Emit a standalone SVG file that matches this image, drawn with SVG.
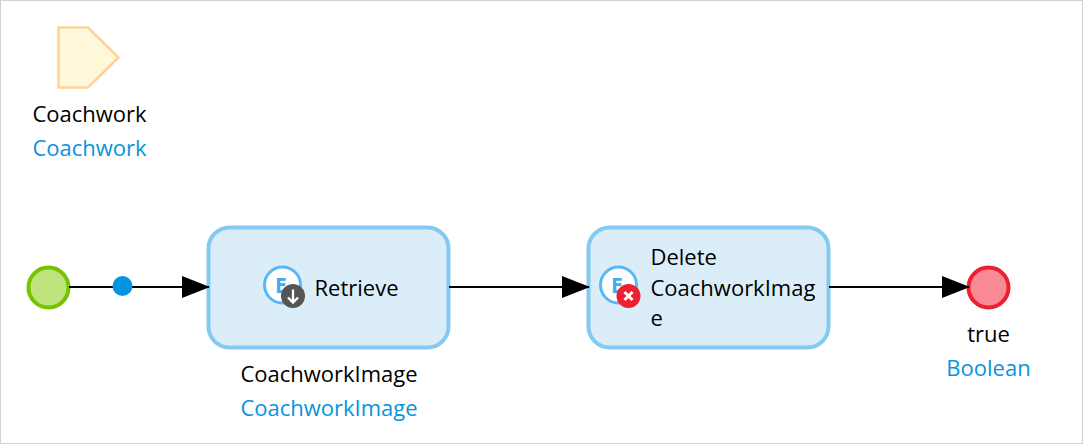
<svg xmlns="http://www.w3.org/2000/svg" width="1083" height="444" viewBox="0 0 1083 444">
<style>
text{font-family:"Open Sans","Noto Sans","Liberation Sans",sans-serif;font-size:22px;fill:#000}
.t{fill:#0595db}
.m{text-anchor:middle}
.act{fill:#daedf9;stroke:#84c9f0;stroke-width:4}
.ic{fill:#fff;stroke:#5cb8f5;stroke-width:3}
.e{font-size:21px;font-weight:700;fill:#45a9ee;text-anchor:middle}
.flow{fill:none;stroke:#000;stroke-width:2}
</style>
<defs>
<marker id="arrow" markerUnits="userSpaceOnUse" markerWidth="28" markerHeight="22" refX="27" refY="11" orient="auto"><path d="M0 0L28 11L0 22Z" fill="#000"/></marker>
</defs>
<rect x="0.500" y="0.500" width="1082" height="443" fill="#fff" stroke="#d2d2d2"/>
<g id="param">
<path d="M58.500 27.500H88L118.500 57.500L88 87.500H58.500Z" fill="#fff8da" stroke="#fdd39b" stroke-width="2.500"/>
<text class="m" x="89.500" y="122">Coachwork</text>
<text class="m t" x="89.500" y="156">Coachwork</text>
</g>
<g id="start"><circle cx="48.500" cy="287.500" r="20" fill="#bde27e" stroke="#76c400" stroke-width="4"/></g>
<g id="retrieve">
<rect class="act" x="208.500" y="227.500" width="240" height="120" rx="21"/>
<circle class="ic" cx="282.500" cy="285" r="18"/>
<text class="e" x="281" y="293">E</text>
<circle cx="293" cy="296" r="12" fill="#555"/>
<path d="M293 289.500V302M288 297.500L293 302.500L298 297.500" fill="none" stroke="#fff" stroke-width="2.300"/>
<text x="314.500" y="296">Retrieve</text>
<text class="m" x="329" y="382">CoachworkImage</text>
<text class="m t" x="329" y="416">CoachworkImage</text>
</g>
<g id="delete">
<rect class="act" x="588.500" y="227.500" width="240" height="120" rx="21"/>
<circle class="ic" cx="618.500" cy="285" r="18"/>
<text class="e" x="617" y="293">E</text>
<circle cx="628.500" cy="296" r="12" fill="#ee1f2f"/>
<path d="M624.500 292L632.500 300M632.500 292L624.500 300" fill="none" stroke="#fff" stroke-width="3"/>
<text x="650.500" y="265">Delete</text>
<text x="650.500" y="296">CoachworkImag</text>
<text x="650.500" y="326">e</text>
</g>
<g id="end">
<circle cx="988.500" cy="287.500" r="20" fill="#f78a92" stroke="#ee1f2f" stroke-width="4"/>
<text class="m" x="988.500" y="342">true</text>
<text class="m t" x="988.500" y="376">Boolean</text>
</g>
<g id="connectors">
<path class="flow" d="M69 287H209" marker-end="url(#arrow)"/>
<path class="flow" d="M449 287H589" marker-end="url(#arrow)"/>
<path class="flow" d="M829 287H969" marker-end="url(#arrow)"/>
<circle cx="122.500" cy="286" r="10" fill="#0595e0"/>
</g>
</svg>
